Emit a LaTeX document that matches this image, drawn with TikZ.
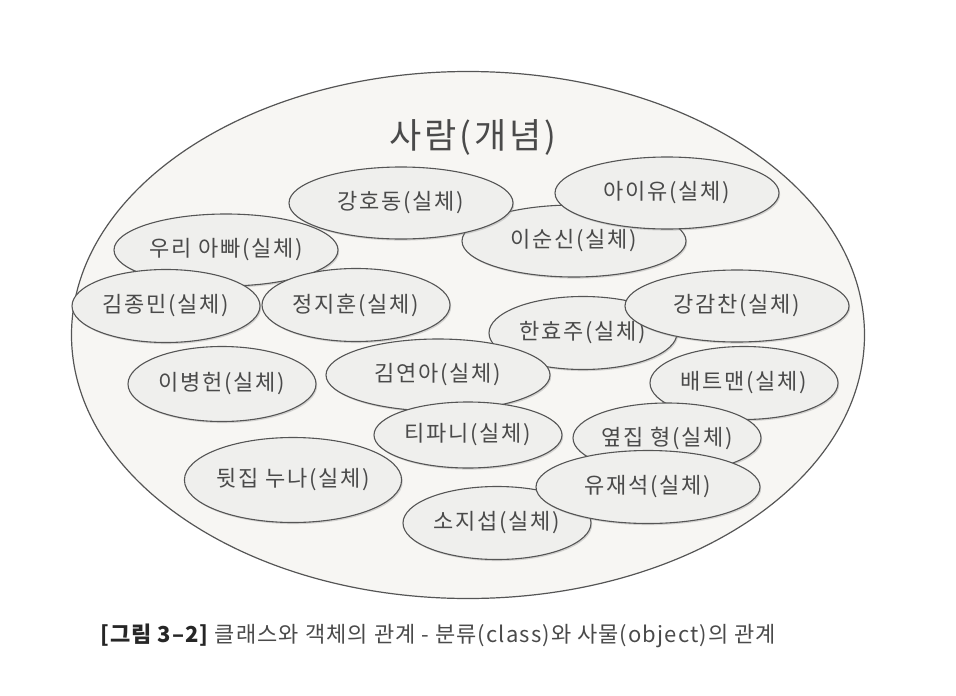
\documentclass[tikz,border=0pt]{standalone}
\usepackage{fontspec}
\setmainfont{Noto Sans CJK KR}
\newfontfamily\spacedfont[LetterSpace=8]{Noto Sans CJK KR}
\newfontfamily\captionfont[LetterSpace=5]{Noto Sans CJK KR}
\usepackage{xcolor}
\usetikzlibrary{shapes.geometric,shadows}
\definecolor{linegray}{HTML}{555555}
\definecolor{inkgray}{HTML}{4A4A4A}
\definecolor{entityfill}{HTML}{EFEFED}
\definecolor{conceptfill}{HTML}{F7F6F3}

\begin{document}
\begin{tikzpicture}[x=1pt,y=-1pt,
  entity/.style={ellipse,draw=linegray,line width=1.1pt,fill=entityfill,text=inkgray,
    font=\spacedfont\fontsize{22}{26}\selectfont,inner sep=0pt,
    minimum width=188pt,minimum height=73pt,
    drop shadow={shadow xshift=1.2pt,shadow yshift=-1.6pt,opacity=0.3}},
  wideentity/.style={entity,minimum width=224pt,minimum height=72pt}]
\useasboundingbox (0,0) rectangle (956,696);

\node[ellipse,draw=linegray,line width=1.2pt,fill=conceptfill,
  minimum width=793pt,minimum height=527pt] (concept) at (468,335) {};
\node[text=inkgray,font=\spacedfont\fontsize{35}{40}\selectfont] (title) at (473,137) {사람(개념)};

\node[wideentity] (leesunsin) at (574,241) {이순신(실체)};
\node[wideentity] (kanghodong) at (401,203) {강호동(실체)};
\node[wideentity] (iu) at (667,193) {아이유(실체)};
\node[wideentity] (dad) at (226,250) {우리 아빠(실체)};
\node[entity] (kimjongmin) at (166,306) {김종민(실체)};
\node[entity] (jungjihoon) at (356,305) {정지훈(실체)};
\node[entity] (hanhyoju) at (583,333) {한효주(실체)};
\node[wideentity] (kanggamchan) at (737,306) {강감찬(실체)};
\node[wideentity] (kimyuna) at (438,375) {김연아(실체)};
\node[entity,minimum height=66pt] (tiffany) at (468,435) {티파니(실체)};
\node[entity,minimum height=75pt] (leebyunghun) at (222,384) {이병헌(실체)};
\node[entity,minimum width=217pt,minimum height=85pt] (backnuna) at (293,480) {뒷집 누나(실체)};
\node[entity] (batman) at (744,383) {배트맨(실체)};
\node[entity,minimum height=70pt] (nexthyung) at (667,438) {옆집 형(실체)};
\node[entity] (sojisub) at (497,523) {소지섭(실체)};
\node[wideentity,minimum height=73pt] (yoojaesuk) at (648,487) {유재석(실체)};

\node[anchor=west,text=inkgray,font=\captionfont\fontsize{22}{26}\selectfont,inner sep=0pt] (caption) at (100,636)
  {\textcolor{black!85}{\bfseries [그림 3–2]} 클래스와 객체의 관계 - 분류(class)와 사물(object)의 관계};
\end{tikzpicture}
\end{document}
